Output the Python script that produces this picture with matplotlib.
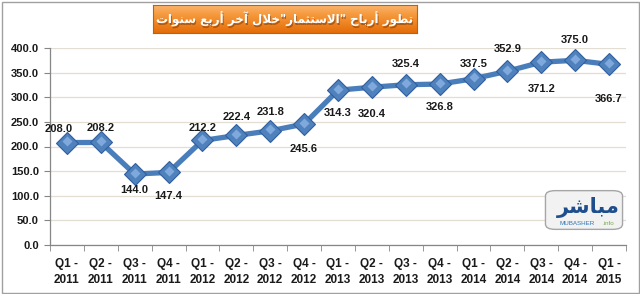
import numpy as np
import matplotlib
matplotlib.use('Agg')
import matplotlib.pyplot as plt
from matplotlib.patches import Rectangle, FancyBboxPatch

quarters = ['Q1', 'Q2', 'Q3', 'Q4', 'Q1', 'Q2', 'Q3', 'Q4', 'Q1', 'Q2', 'Q3', 'Q4',
            'Q1', 'Q2', 'Q3', 'Q4', 'Q1']
years = ['2011'] * 4 + ['2012'] * 4 + ['2013'] * 4 + ['2014'] * 4 + ['2015']
profits = [208.0, 208.2, 144.0, 147.4, 212.2, 222.4, 231.8, 245.6, 314.3, 320.4,
           325.4, 326.8, 337.5, 352.9, 371.2, 375.0, 366.7]
title_text = 'تطور أرباح "الاستثمار"خلال آخر أربع سنوات'
logo_text = 'مباشر'

# data label offsets from the point, in pixels (+ above, - below)
label_dy = [14, 14, -16, -24, 12, 18, 19, -25, -23, -27, 21, -23, 15, 22, -27, 20, -35]

# arabic presentation forms: (isolated, final, initial, medial)
FORMS = {
    'ا': ('\uFE8D', '\uFE8E'), 'أ': ('\uFE83', '\uFE84'), 'آ': ('\uFE81', '\uFE82'),
    'ر': ('\uFEAD', '\uFEAE'), 'و': ('\uFEED', '\uFEEE'),
    'لا': ('\uFEFB', '\uFEFC'), 'لأ': ('\uFEF7', '\uFEF8'), 'لآ': ('\uFEF5', '\uFEF6'),
    'ب': ('\uFE8F', '\uFE90', '\uFE91', '\uFE92'),
    'ت': ('\uFE95', '\uFE96', '\uFE97', '\uFE98'),
    'ث': ('\uFE99', '\uFE9A', '\uFE9B', '\uFE9C'),
    'ح': ('\uFEA1', '\uFEA2', '\uFEA3', '\uFEA4'),
    'خ': ('\uFEA5', '\uFEA6', '\uFEA7', '\uFEA8'),
    'س': ('\uFEB1', '\uFEB2', '\uFEB3', '\uFEB4'),
    'ش': ('\uFEB5', '\uFEB6', '\uFEB7', '\uFEB8'),
    'ط': ('\uFEC1', '\uFEC2', '\uFEC3', '\uFEC4'),
    'ع': ('\uFEC9', '\uFECA', '\uFECB', '\uFECC'),
    'ل': ('\uFEDD', '\uFEDE', '\uFEDF', '\uFEE0'),
    'م': ('\uFEE1', '\uFEE2', '\uFEE3', '\uFEE4'),
    'ن': ('\uFEE5', '\uFEE6', '\uFEE7', '\uFEE8'),
}


def shape(text):
    chars = []
    i = 0
    while i < len(text):
        if text[i] == 'ل' and i + 1 < len(text) and text[i:i + 2] in FORMS:
            chars.append(text[i:i + 2])
            i += 2
        else:
            chars.append(text[i])
            i += 1
    out = []
    for k, c in enumerate(chars):
        f = FORMS.get(c)
        if f is None:
            out.append(c)
            continue
        prev = chars[k - 1] if k > 0 else None
        nxt = chars[k + 1] if k + 1 < len(chars) else None
        jp = prev in FORMS and len(FORMS[prev]) == 4
        jn = len(f) == 4 and nxt in FORMS
        if jp and jn:
            out.append(f[3])
        elif jp:
            out.append(f[1])
        elif jn:
            out.append(f[2])
        else:
            out.append(f[0])
    return ''.join(out)[::-1]


W, H = 640, 294
fig = plt.figure(figsize=(W / 100, H / 100), dpi=100)
fig.patch.set_facecolor('white')

ax = fig.add_axes([50 / W, 1 - 245 / H, 576 / W, 197 / H])
x = np.arange(len(profits))
ax.plot(x, profits, color='#4A7EBB', lw=3.8, zorder=3, solid_joinstyle='round')
ax.plot(x, profits, 'D', ms=11, mfc='#4F81BD', mec='#2F5F9E', mew=0.8, zorder=4)
ax.plot(x, np.array(profits) + 3, 'D', ms=5, mfc='#7FA9DC', mec='none', zorder=5)

for i, (v, dy) in enumerate(zip(profits, label_dy)):
    dx = -8 if i == 0 else 0
    ax.annotate('%.1f' % v, (i, v), xytext=(dx * 0.72, dy * 0.72), textcoords='offset points',
                ha='center', va='center', fontsize=8, fontweight='bold',
                family='Liberation Sans', color='#1a1a1a', zorder=6)

ax.set_xlim(-0.5, len(profits) - 0.5)
ax.set_ylim(0, 400)
ax.set_yticks(np.arange(0, 401, 50))
ax.set_yticklabels(['%.1f' % t for t in np.arange(0, 401, 50)])
ax.set_xticks(x)
ax.set_xticklabels([q + ' -\n' + y for q, y in zip(quarters, years)])
ax.set_xticks(np.arange(-0.5, len(profits)), minor=True)
ax.tick_params(axis='x', which='major', length=0, pad=9)
ax.tick_params(axis='x', which='minor', length=4, color='#868686', direction='out')
ax.tick_params(axis='y', length=4, color='#868686', pad=4)
for lab in ax.get_yticklabels():
    lab.set_fontfamily('Liberation Sans')
    lab.set_fontweight('bold')
    lab.set_fontsize(8)
    lab.set_color('#1a1a1a')
for lab in ax.get_xticklabels():
    lab.set_fontfamily('Liberation Sans')
    lab.set_fontweight('bold')
    lab.set_fontsize(8.5)
    lab.set_linespacing(1.45)
    lab.set_color('#1a1a1a')
ax.grid(axis='y', color='#E3DED3', lw=0.9)
ax.set_axisbelow(True)
for sp in ['top', 'right']:
    ax.spines[sp].set_visible(False)
for sp in ['left', 'bottom']:
    ax.spines[sp].set_color('#868686')
    ax.spines[sp].set_linewidth(0.9)

# title banner
tax = fig.add_axes([153 / W, 1 - 33 / H, 264 / W, 28 / H])
grad = np.linspace(0, 1, 64).reshape(-1, 1)
orange = matplotlib.colors.LinearSegmentedColormap.from_list(
    'org', ['#FAB56E', '#F59A3E', '#EE8321', '#E36C0A'])
tax.imshow(grad, aspect='auto', cmap=orange, extent=[0, 1, 0, 1], origin='upper')
tax.set_xlim(0, 1)
tax.set_ylim(0, 1)
tax.set_xticks([])
tax.set_yticks([])
for sp in tax.spines.values():
    sp.set_color('#C65E07')
tax.text(0.503, 0.42, shape(title_text), ha='center', va='center', fontsize=8.6,
         fontweight='bold', color='#7a3a05', family=['DejaVu Sans'], alpha=0.55)
tax.text(0.5, 0.47, shape(title_text), ha='center', va='center', fontsize=8.6,
         fontweight='bold', color='white', family=['DejaVu Sans'])

# logo
lax = fig.add_axes([543 / W, 1 - 232 / H, 82 / W, 44 / H])
lax.axis('off')
lax.set_xlim(0, 1)
lax.set_ylim(0, 1)
lax.add_patch(FancyBboxPatch((0.05, 0.08), 0.9, 0.84, boxstyle='round,pad=0.02,rounding_size=0.12',
                             fc='#F2F2F2', ec='#A6A6A6', lw=1.0))
lax.text(0.55, 0.55, shape(logo_text), ha='center', va='center', fontsize=15,
         fontweight='bold', color='#1F4E8C', family=['DejaVu Sans'])
lax.text(0.42, 0.2, 'MUBASHER', ha='center', va='center', fontsize=4.5,
         color='#2E75B6', family='Liberation Sans')
lax.text(0.8, 0.2, '.info', ha='center', va='center', fontsize=4.5,
         color='#70AD47', family='Liberation Sans')

# outer frame
fig.patches.append(Rectangle((1.5 / W, 1.5 / H), 1 - 3 / W, 1 - 3 / H, transform=fig.transFigure,
                             fill=False, ec='#A0A0A0', lw=1.0))

fig.savefig('out.png', dpi=100)
